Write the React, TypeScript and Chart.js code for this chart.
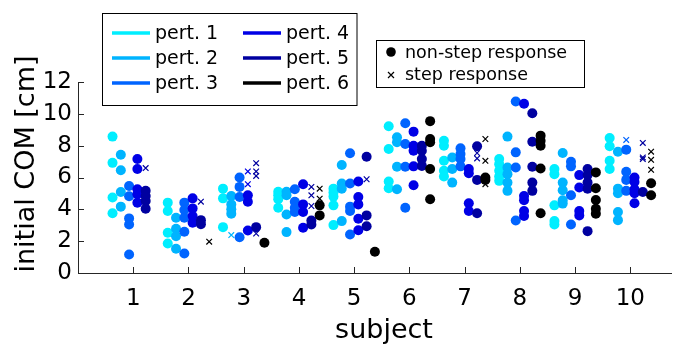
import React, { useEffect, useRef } from 'react';
import { Chart, registerables } from 'chart.js';

Chart.register(...registerables);

const subjects = [1, 2, 3, 4, 5, 6, 7, 8, 9, 10];
const xTicks = [1, 2, 3, 4, 5, 6, 7, 8, 9, 10];
const yTicks = [0, 2, 4, 6, 8, 10, 12];
const pertLabels = ['pert. 1', 'pert. 2', 'pert. 3', 'pert. 4', 'pert. 5', 'pert. 6'];
const pertColors = ['#00EEFF', '#00B4FF', '#0064FF', '#0000E6', '#0000A0', '#000000'];
const markerLabels = ['non-step response', 'step response'];

// values per subject (1..10), non-step responses (filled circles)
const pert1NonStep = [
  [8.57, 6.92, 4.74, 3.75], [4.42, 3.89, 2.53, 1.85], [5.3, 4.69, 2.88], [5.11, 4.88, 4.63, 4.1],
  [5.3, 5.05, 4.8, 4.25, 3.01], [9.22, 7.79, 5.75, 5.33], [8.31, 8.0, 7.05, 6.42, 6.06],
  [7.16, 6.84, 6.42, 6.06, 5.79], [6.53, 6.21, 4.25, 3.26, 3.05], [8.48, 7.96, 7.05, 6.53],
];
const pert2NonStep = [
  [7.43, 6.46, 5.09, 4.17], [3.47, 2.78, 2.31, 1.52], [4.84, 4.31, 4.0, 3.73], [5.11, 4.88, 3.68, 2.57],
  [6.78, 5.62, 5.3, 3.26], [8.53, 8.21, 6.67, 5.26], [7.26, 6.53, 5.68],
  [8.57, 6.63, 6.21, 5.68, 5.16], [7.54, 5.68, 5.2, 4.57, 4.36], [7.62, 5.3, 5.01, 3.83, 3.32],
];
const pert3NonStep = [
  [5.47, 4.82, 3.43, 3.05, 1.16], [4.42, 3.96, 3.47, 2.59, 1.22], [6.0, 5.41, 4.78, 2.25], [5.26, 4.48, 4.1, 3.83],
  [7.52, 5.62, 4.17, 3.89, 2.42], [9.41, 8.1, 6.67, 4.1], [7.83, 7.47, 7.16, 6.7],
  [10.78, 7.58, 6.63, 3.3], [6.99, 6.7, 4.88, 3.05], [7.75, 6.36, 5.85, 5.16],
];
const pert4NonStep = [
  [7.16, 6.53, 5.26, 4.95, 4.42], [4.69, 4.06, 3.58, 3.16], [4.88, 4.48, 2.67], [5.58, 4.31, 3.83, 2.84],
  [5.75, 4.78, 4.31, 3.41, 2.69], [8.88, 8.0, 7.68, 6.7, 5.51], [6.53, 6.27, 4.38, 3.89],
  [10.63, 4.84, 4.57, 3.89, 3.58], [6.15, 5.37, 3.89, 3.62], [6.0, 5.72, 5.26, 5.01, 4.38],
];
const pert5NonStep = [
  [5.16, 4.84, 4.52, 4.04], [3.32, 3.07], [2.88], [3.3, 3.05],
  [7.3, 3.62, 2.94], [8.0, 7.68, 7.16, 6.73], [7.96, 5.85, 3.75],
  [10.04, 8.25, 6.67, 5.68, 5.16], [6.53, 6.15, 5.68, 5.3, 2.63], [5.09],
];
const pert6NonStep = [
  [], [], [1.9], [4.25, 3.62],
  [1.33], [9.54, 8.42, 8.21, 6.53, 4.63], [6.0, 5.85],
  [8.63, 8.31, 8.0, 6.57, 3.75], [6.32, 5.33, 4.59, 4.04, 3.73], [5.64, 4.88],
];

// step responses (crosses)
const pert1Step = [[], [], [], [], [], [], [], [], [], []];
const pert2Step = [[], [], [2.38], [], [], [], [], [], [], []];
const pert3Step = [[], [], [], [], [], [], [], [], [], [8.36]];
const pert4Step = [[], [], [6.38, 5.58], [], [], [], [], [], [], []];
const pert5Step = [[6.59], [4.48], [6.9, 6.38, 6.1, 2.48], [5.41, 4.88, 4.21], [5.89], [], [7.54, 7.2], [], [], [8.17, 7.26, 7.16]];
const pert6Step = [[], [1.97], [], [5.3, 4.67], [], [], [8.42, 7.05, 5.58], [], [], [7.62, 7.11, 6.48]];

const nonStepAll = [pert1NonStep, pert2NonStep, pert3NonStep, pert4NonStep, pert5NonStep, pert6NonStep];
const stepAll = [pert1Step, pert2Step, pert3Step, pert4Step, pert5Step, pert6Step];

const FONT = '"DejaVu Sans", Verdana, sans-serif';
const AXIS_COLOR = '#262626';

const offset = (p: number) => (p - 2.5) * 0.15;

const overlayPlugin = {
  id: 'overlay',
  afterDraw(chart: any) {
    const ctx = chart.ctx as CanvasRenderingContext2D;
    const xs = chart.scales.x;
    const ys = chart.scales.y;
    const area = chart.chartArea;
    ctx.save();
    // inward ticks
    ctx.strokeStyle = AXIS_COLOR;
    ctx.lineWidth = 1;
    ctx.beginPath();
    xTicks.forEach((v) => {
      const px = Math.round(xs.getPixelForValue(v)) + 0.5;
      ctx.moveTo(px, area.bottom);
      ctx.lineTo(px, area.bottom - 6);
    });
    yTicks.forEach((v) => {
      const py = Math.round(ys.getPixelForValue(v)) + 0.5;
      ctx.moveTo(area.left, py);
      ctx.lineTo(area.left + 6, py);
    });
    ctx.stroke();

    // axis titles
    ctx.fillStyle = '#000';
    ctx.font = `27px ${FONT}`;
    ctx.textAlign = 'center';
    ctx.textBaseline = 'middle';
    ctx.fillText('subject', 384, 331);
    ctx.save();
    ctx.translate(27, 164);
    ctx.rotate(-Math.PI / 2);
    ctx.fillText('initial COM [cm]', 0, 0);
    ctx.restore();

    // legend 1
    ctx.fillStyle = '#fff';
    ctx.fillRect(102.5, 13.5, 254.5, 92);
    ctx.strokeStyle = '#000';
    ctx.lineWidth = 1;
    ctx.strokeRect(102.5, 13.5, 254.5, 92);
    ctx.font = `19px ${FONT}`;
    ctx.textAlign = 'left';
    ctx.textBaseline = 'middle';
    pertLabels.forEach((lab, i) => {
      const col = Math.floor(i / 3);
      const row = i % 3;
      const x0 = col === 0 ? 112 : 243;
      const y = 33 + row * 25;
      ctx.strokeStyle = pertColors[i];
      ctx.lineWidth = 3.5;
      ctx.beginPath();
      ctx.moveTo(x0, y);
      ctx.lineTo(x0 + 38, y);
      ctx.stroke();
      ctx.fillStyle = '#000';
      ctx.fillText(lab, x0 + 43, y + 1);
    });

    // legend 2
    ctx.fillStyle = '#fff';
    ctx.fillRect(376.5, 40.5, 208, 47);
    ctx.strokeStyle = '#000';
    ctx.lineWidth = 1;
    ctx.strokeRect(376.5, 40.5, 208, 47);
    ctx.font = `17.5px ${FONT}`;
    ctx.fillStyle = '#000';
    ctx.beginPath();
    ctx.arc(391, 52, 4.8, 0, Math.PI * 2);
    ctx.fill();
    ctx.beginPath();
    ctx.lineWidth = 1.2;
    ctx.moveTo(388, 72);
    ctx.lineTo(394, 78);
    ctx.moveTo(394, 72);
    ctx.lineTo(388, 78);
    ctx.stroke();
    ctx.fillText(markerLabels[0], 405, 53);
    ctx.fillText(markerLabels[1], 405, 75);
    ctx.restore();
  },
};

export default function App() {
  const ref = useRef<HTMLCanvasElement | null>(null);
  useEffect(() => {
    document.body.style.margin = '0';
    const datasets: any[] = [];
    nonStepAll.forEach((arr, p) => {
      datasets.push({
        label: pertLabels[p],
        data: subjects.flatMap((s, i) => arr[i].map((v) => ({ x: s + offset(p), y: v }))),
        pointStyle: 'circle',
        pointRadius: 5,
        pointBackgroundColor: pertColors[p],
        pointBorderWidth: 0,
        pointBorderColor: pertColors[p],
        showLine: false,
        order: 100 - p * 2,
      });
      datasets.push({
        label: pertLabels[p] + ' step',
        data: subjects.flatMap((s, i) => stepAll[p][i].map((v) => ({ x: s + offset(p), y: v }))),
        pointStyle: 'crossRot',
        pointRadius: 4,
        pointBorderColor: pertColors[p],
        pointBorderWidth: 1.2,
        showLine: false,
        order: 99 - p * 2,
      });
    });
    const chart = new Chart(ref.current as HTMLCanvasElement, {
      type: 'scatter',
      data: { datasets },
      options: {
        animation: false,
        responsive: false,
        devicePixelRatio: 1,
        layout: { padding: { top: 82, right: 0, left: 0, bottom: 0 } },
        plugins: { legend: { display: false }, tooltip: { enabled: false } },
        scales: {
          x: {
            type: 'linear',
            min: 0,
            max: 10.75,
            afterBuildTicks: (scale: any) => {
              scale.ticks = xTicks.map((v) => ({ value: v }));
            },
            afterFit: (scale: any) => {
              scale.height = 73;
            },
            grid: { display: false, drawTicks: false },
            border: { display: true, color: AXIS_COLOR, width: 1 },
            ticks: { color: '#000', font: { family: FONT, size: 23 }, padding: 12, maxRotation: 0, autoSkip: false },
          },
          y: {
            type: 'linear',
            min: 0,
            max: 12,
            afterBuildTicks: (scale: any) => {
              scale.ticks = yTicks.map((v) => ({ value: v }));
            },
            afterFit: (scale: any) => {
              scale.width = 78;
            },
            grid: { display: false, drawTicks: false },
            border: { display: true, color: AXIS_COLOR, width: 1 },
            ticks: { color: '#000', font: { family: FONT, size: 23 }, padding: 6, autoSkip: false },
          },
        },
      },
      plugins: [overlayPlugin],
    });
    return () => chart.destroy();
  }, []);
  return (
    <div style={{ position: 'absolute', left: 0, top: 0, width: 677, height: 346 }}>
      <canvas ref={ref} width={677} height={346} />
    </div>
  );
}
